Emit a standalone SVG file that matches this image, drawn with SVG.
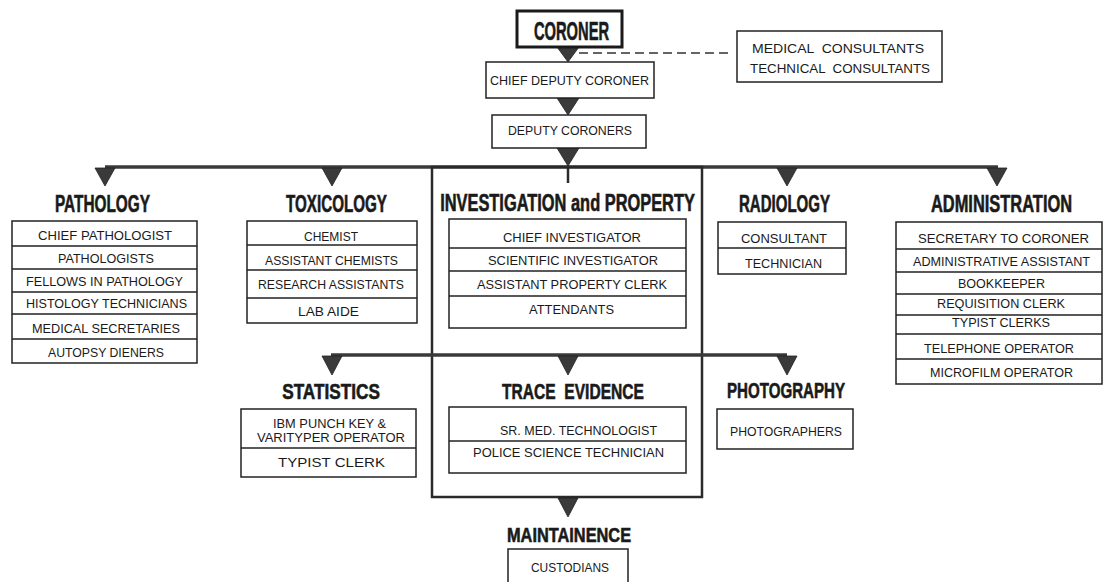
<svg xmlns="http://www.w3.org/2000/svg" width="1103" height="582" viewBox="0 0 1103 582">
<style>
.bg{fill:#ffffff}
.box{fill:#ffffff;stroke:#222;stroke-width:1.5}
.div{stroke:#222;stroke-width:1.3}
.t{font-family:"Liberation Sans",Arial,sans-serif;font-size:13.5px;fill:#1a1a1a;text-anchor:middle}
.h{font-family:"Liberation Sans",Arial,sans-serif;font-weight:bold;font-size:23.5px;fill:#1a1a1a;text-anchor:middle;stroke:#1a1a1a;stroke-width:0.6}
.h2{font-size:22px}
.line{fill:none;stroke:#3a3a3a;stroke-width:3.5}
.frame{fill:none;stroke:#2a2a2a;stroke-width:2.5}
.dash{fill:none;stroke:#333;stroke-width:1.6;stroke-dasharray:9 5}
.arr{fill:#3a3a3a;stroke:#222;stroke-width:0.8}
</style>
<rect class="bg" x="0" y="0" width="1103" height="582"/>

<g id="connectors">
  <path class="line" d="M105,167 H998"/>
  <rect class="frame" x="432" y="167" width="270" height="330"/>
  <path class="frame" d="M568,167 V183"/>
  <path class="line" d="M331,355 H787"/>
  <path class="dash" d="M579,53 H728"/>
  <polygon class="arr" points="557,47 579,47 568,62"/>
  <polygon class="arr" points="557,98 579,98 568,115"/>
  <polygon class="arr" points="557,148 579,148 568,166"/>
  <polygon class="arr" points="95,168 115,168 105,186"/>
  <polygon class="arr" points="322,168 342,168 332,186"/>
  <polygon class="arr" points="777,168 797,168 787,186"/>
  <polygon class="arr" points="987,168 1007,168 997,186"/>
  <polygon class="arr" points="322,356 342,356 332,375"/>
  <polygon class="arr" points="558,356 578,356 568,375"/>
  <polygon class="arr" points="777,356 797,356 787,375"/>
  <polygon class="arr" points="558,498 578,498 568,517"/>
</g>

<g id="coroner">
  <rect x="517" y="11" width="105" height="36" fill="#fff" stroke="#1a1a1a" stroke-width="3"/>
  <text class="h" transform="translate(571.5,40) scale(0.66,1)" x="0" y="0" style="font-size:26px" textLength="114" lengthAdjust="spacingAndGlyphs">CORONER</text>
</g>

<g id="consultants">
  <rect class="box" x="737" y="31" width="205" height="51"/>
  <text class="t" x="838" y="53" xml:space="preserve" textLength="172" lengthAdjust="spacingAndGlyphs">MEDICAL  CONSULTANTS</text>
  <text class="t" x="840" y="73" xml:space="preserve" textLength="180" lengthAdjust="spacingAndGlyphs">TECHNICAL  CONSULTANTS</text>
</g>

<g id="chief-deputy-coroner">
  <rect class="box" x="486" y="62" width="168" height="36"/>
  <text class="t" x="569.5" y="85" textLength="159" lengthAdjust="spacingAndGlyphs">CHIEF DEPUTY CORONER</text>
</g>

<g id="deputy-coroners">
  <rect class="box" x="492" y="115" width="154" height="33"/>
  <text class="t" x="570" y="135" textLength="124" lengthAdjust="spacingAndGlyphs">DEPUTY CORONERS</text>
</g>

<g id="pathology">
  <text class="h" transform="translate(102.5,212) scale(0.66,1)" x="0" y="0" textLength="144" lengthAdjust="spacingAndGlyphs">PATHOLOGY</text>
  <rect class="box" x="12" y="221" width="185" height="142"/>
  <path class="div" d="M12,246 H197 M12,269 H197 M12,292 H197 M12,314 H197 M12,339 H197"/>
  <text class="t" x="105" y="240" textLength="134" lengthAdjust="spacingAndGlyphs">CHIEF PATHOLOGIST</text>
  <text class="t" x="106" y="263" textLength="96" lengthAdjust="spacingAndGlyphs">PATHOLOGISTS</text>
  <text class="t" x="104.5" y="286" textLength="157" lengthAdjust="spacingAndGlyphs">FELLOWS IN PATHOLOGY</text>
  <text class="t" x="106.5" y="308" textLength="161" lengthAdjust="spacingAndGlyphs">HISTOLOGY TECHNICIANS</text>
  <text class="t" x="106" y="333" textLength="148" lengthAdjust="spacingAndGlyphs">MEDICAL SECRETARIES</text>
  <text class="t" x="106" y="357" textLength="116" lengthAdjust="spacingAndGlyphs">AUTOPSY DIENERS</text>
</g>

<g id="toxicology">
  <text class="h" transform="translate(336.5,212) scale(0.66,1)" x="0" y="0" textLength="153" lengthAdjust="spacingAndGlyphs">TOXICOLOGY</text>
  <rect class="box" x="247" y="221" width="170" height="102"/>
  <path class="div" d="M247,245 H417 M247,270 H417 M247,298 H417"/>
  <text class="t" x="331" y="241" textLength="54" lengthAdjust="spacingAndGlyphs">CHEMIST</text>
  <text class="t" x="331.5" y="265" textLength="133" lengthAdjust="spacingAndGlyphs">ASSISTANT CHEMISTS</text>
  <text class="t" x="331" y="289" textLength="146" lengthAdjust="spacingAndGlyphs">RESEARCH ASSISTANTS</text>
  <text class="t" x="328.5" y="316" textLength="61" lengthAdjust="spacingAndGlyphs">LAB AIDE</text>
</g>

<g id="investigation-and-property">
  <text class="h" transform="translate(567.5,211) scale(0.66,1)" x="0" y="0" textLength="386" lengthAdjust="spacingAndGlyphs">INVESTIGATION and PROPERTY</text>
  <rect class="box" x="449" y="219" width="237" height="109"/>
  <path class="div" d="M449,248 H686 M449,271 H686 M449,296 H686"/>
  <text class="t" x="572" y="242" textLength="138" lengthAdjust="spacingAndGlyphs">CHIEF INVESTIGATOR</text>
  <text class="t" x="573" y="265" textLength="170" lengthAdjust="spacingAndGlyphs">SCIENTIFIC INVESTIGATOR</text>
  <text class="t" x="572" y="289" textLength="190" lengthAdjust="spacingAndGlyphs">ASSISTANT PROPERTY CLERK</text>
  <text class="t" x="571.5" y="314" textLength="85" lengthAdjust="spacingAndGlyphs">ATTENDANTS</text>
</g>

<g id="radiology">
  <text class="h" transform="translate(784.5,212) scale(0.66,1)" x="0" y="0" textLength="138" lengthAdjust="spacingAndGlyphs">RADIOLOGY</text>
  <rect class="box" x="718" y="222" width="128" height="52"/>
  <path class="div" d="M718,248 H846"/>
  <text class="t" x="784" y="243" textLength="86" lengthAdjust="spacingAndGlyphs">CONSULTANT</text>
  <text class="t" x="783.5" y="268" textLength="77" lengthAdjust="spacingAndGlyphs">TECHNICIAN</text>
</g>

<g id="administration">
  <text class="h" transform="translate(1001.5,212) scale(0.66,1)" x="0" y="0" textLength="214" lengthAdjust="spacingAndGlyphs">ADMINISTRATION</text>
  <rect class="box" x="896" y="222" width="206" height="162"/>
  <path class="div" d="M896,249 H1102 M896,272 H1102 M896,294 H1102 M896,315 H1102 M896,334 H1102 M896,359 H1102"/>
  <text class="t" x="1003.5" y="243" textLength="171" lengthAdjust="spacingAndGlyphs">SECRETARY TO CORONER</text>
  <text class="t" x="1001.5" y="266" textLength="177" lengthAdjust="spacingAndGlyphs">ADMINISTRATIVE ASSISTANT</text>
  <text class="t" x="1001.5" y="288" textLength="87" lengthAdjust="spacingAndGlyphs">BOOKKEEPER</text>
  <text class="t" x="1001" y="308" textLength="128" lengthAdjust="spacingAndGlyphs">REQUISITION CLERK</text>
  <text class="t" x="1001" y="327" textLength="98" lengthAdjust="spacingAndGlyphs">TYPIST CLERKS</text>
  <text class="t" x="999" y="353" textLength="150" lengthAdjust="spacingAndGlyphs">TELEPHONE OPERATOR</text>
  <text class="t" x="1001.5" y="377" textLength="143" lengthAdjust="spacingAndGlyphs">MICROFILM OPERATOR</text>
</g>

<g id="statistics">
  <text class="h h2" transform="translate(331,399) scale(0.66,1)" x="0" y="0" textLength="148" lengthAdjust="spacingAndGlyphs">STATISTICS</text>
  <rect class="box" x="241" y="409" width="175" height="68"/>
  <path class="div" d="M241,448 H416"/>
  <text class="t" x="329.5" y="428" textLength="113" lengthAdjust="spacingAndGlyphs">IBM PUNCH KEY &amp;</text>
  <text class="t" x="331" y="442" textLength="148" lengthAdjust="spacingAndGlyphs">VARITYPER OPERATOR</text>
  <text class="t" x="331.5" y="467" textLength="107" lengthAdjust="spacingAndGlyphs">TYPIST CLERK</text>
</g>

<g id="trace-evidence">
  <text class="h h2" transform="translate(573,399) scale(0.66,1)" x="0" y="0" xml:space="preserve" textLength="215" lengthAdjust="spacingAndGlyphs">TRACE  EVIDENCE</text>
  <rect class="box" x="449" y="407" width="237" height="66"/>
  <path class="div" d="M449,441 H686"/>
  <text class="t" x="578.5" y="435" textLength="157" lengthAdjust="spacingAndGlyphs">SR. MED. TECHNOLOGIST</text>
  <text class="t" x="568.5" y="457" textLength="191" lengthAdjust="spacingAndGlyphs">POLICE SCIENCE TECHNICIAN</text>
</g>

<g id="photography">
  <text class="h h2" transform="translate(786,398) scale(0.66,1)" x="0" y="0" textLength="179" lengthAdjust="spacingAndGlyphs">PHOTOGRAPHY</text>
  <rect class="box" x="717" y="409" width="136" height="40"/>
  <text class="t" x="786" y="436" textLength="112" lengthAdjust="spacingAndGlyphs">PHOTOGRAPHERS</text>
</g>

<g id="maintainence">
  <text class="h" transform="translate(569,542) scale(0.66,1)" x="0" y="0" style="font-size:21px" textLength="188" lengthAdjust="spacingAndGlyphs">MAINTAINENCE</text>
  <rect class="box" x="508" y="549" width="120" height="45"/>
  <text class="t" x="570" y="572" textLength="78" lengthAdjust="spacingAndGlyphs">CUSTODIANS</text>
</g>
</svg>
